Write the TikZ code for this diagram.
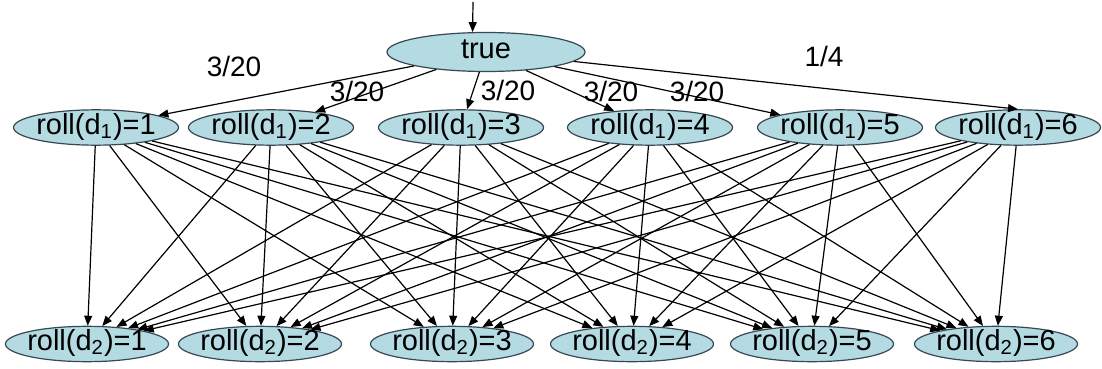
\documentclass[tikz,border=0pt]{standalone}
\usepackage{fontspec}
\setmainfont{Liberation Sans}
\usetikzlibrary{shapes.geometric,arrows.meta}

\definecolor{dicefill}{RGB}{180,218,226}
\definecolor{diceline}{RGB}{55,72,82}

\begin{document}
\begin{tikzpicture}[x=0.5pt, y=-0.5pt, line width=0.6pt,
    >={Triangle[length=5pt,width=4pt]},
    state/.style={ellipse, draw=diceline, fill=dicefill, line width=0.6pt,
        inner xsep=-8pt, inner ysep=0pt, text height=9.5pt, text depth=3pt,
        font=\fontsize{14.5}{17}\selectfont},
    prob/.style={font=\fontsize{14}{17}\selectfont, inner sep=0pt}]
    \useasboundingbox (0,0) rectangle (1102,369);

    % root node
    \node[state, minimum width=99pt, minimum height=19.5pt] (true) at (486,52) {true};
    \coordinate (start) at (473,2);
    \draw[->] (start) -- (true.124);

    % first die
    \foreach \n/\x in {1/96,2/271,3/461,4/650,5/840,6/1018}
        \node[state, minimum width=82.5pt, minimum height=17.5pt] (r\n) at (\x,127.5) {roll(d\textsubscript{1})=\n};

    % second die
    \foreach \n/\x in {1/87,2/260,3/452,4/632,5/812,6/996}
        \node[state, minimum width=81.5pt, minimum height=16pt] (b\n) at (\x,344) {roll(d\textsubscript{2})=\n};

    % edges from the root
    \foreach \n in {1,...,5}
        \draw[->] (true) -- (r\n);
    \draw[->] (true) -- (r6.north);

    % probabilities
    \node[prob] (p1) at (234,66) {3/20};
    \node[prob] (p2) at (357,91) {3/20};
    \node[prob] (p3) at (508,90) {3/20};
    \node[prob] (p4) at (611,91) {3/20};
    \node[prob] (p5) at (697,91) {3/20};
    \node[prob] (p6) at (824,56) {1/4};

    % every pair of rolls
    \foreach \i in {1,...,6}
        \foreach \j in {1,...,6}
            \draw[->] (r\i) -- (b\j);
\end{tikzpicture}
\end{document}
